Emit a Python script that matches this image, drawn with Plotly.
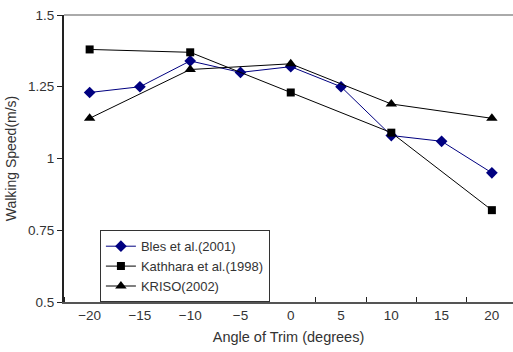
import plotly.graph_objects as go

angles = [-20, -15, -10, -5, 0, 5, 10, 15, 20]
bles = [1.23, 1.25, 1.34, 1.30, 1.32, 1.25, 1.08, 1.06, 0.95]
kath_x = [-20, -10, 0, 10, 20]
kath = [1.38, 1.37, 1.23, 1.09, 0.82]
kriso_x = [-20, -10, 0, 10, 20]
kriso = [1.14, 1.31, 1.33, 1.19, 1.14]
x_labels = [str(a).replace("-", "\u2212") for a in angles]
y_ticks = [0.5, 0.75, 1, 1.25, 1.5]
y_labels = ["0.5", "0.75", "1", "1.25", "1.5"]

FONT = "Liberation Sans, Arial, sans-serif"
TXT = "#333"

fig = go.Figure()
fig.add_trace(go.Scatter(x=angles, y=bles, mode="lines+markers", name="Bles et al.(2001)",
                         line=dict(color="#000080", width=1),
                         marker=dict(symbol="diamond", size=9, color="#000080")))
fig.add_trace(go.Scatter(x=kath_x, y=kath, mode="lines+markers", name="Kathhara et al.(1998)",
                         line=dict(color="black", width=1),
                         marker=dict(symbol="square", size=8, color="black")))
fig.add_trace(go.Scatter(x=kriso_x, y=kriso, mode="lines+markers", name="KRISO(2002)",
                         line=dict(color="black", width=1),
                         marker=dict(symbol="triangle-up", size=10, color="black")))

fig.update_layout(
    width=513, height=352,
    margin=dict(l=64, r=0, t=15, b=50),
    paper_bgcolor="white", plot_bgcolor="white",
    font=dict(family=FONT, size=13, color=TXT),
    legend=dict(x=0.08, y=0.25, xanchor="left", yanchor="top",
                bordercolor="#333", borderwidth=1, bgcolor="white",
                font=dict(family=FONT, size=13, color=TXT), tracegroupgap=0,
                itemwidth=30),
    shapes=[dict(type="line", xref="paper", yref="paper", x0=0, x1=1, y0=1, y1=1,
                 line=dict(color="#aaaaaa", width=2))],
)
fig.update_xaxes(
    range=[-22.55, 22.1], tickvals=angles, ticktext=x_labels,
    ticks="", showline=True, linecolor="#555", linewidth=2, showgrid=False, zeroline=False,
    minor=dict(tick0=-17.5, dtick=5, ticks="inside", ticklen=5, tickcolor="#222", tickwidth=1, showgrid=False),
    title=dict(text="Angle of Trim (degrees)", font=dict(family=FONT, size=14.5, color=TXT), standoff=10),
    tickfont=dict(family=FONT, size=13.5, color=TXT),
)
fig.update_yaxes(
    range=[0.5, 1.5], tickvals=y_ticks, ticktext=y_labels,
    ticks="outside", ticklen=5, tickcolor="#222", showline=True, linecolor="#222", linewidth=2,
    showgrid=False, zeroline=False,
    title=dict(text="Walking Speed(m/s)", font=dict(family=FONT, size=14, color=TXT), standoff=8),
    tickfont=dict(family=FONT, size=13.5, color=TXT),
)

fig.write_html("out.html")
